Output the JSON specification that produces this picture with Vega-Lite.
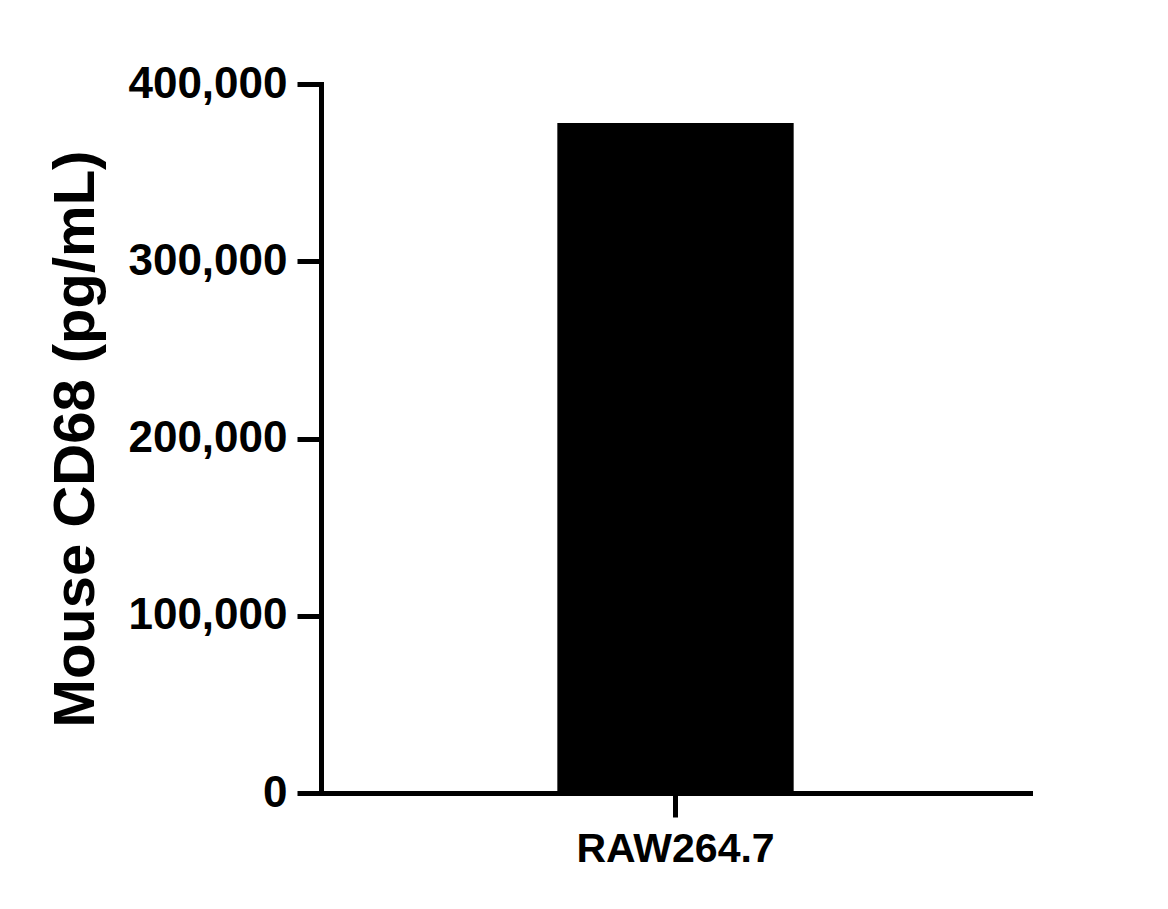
{
  "$schema": "https://vega.github.io/schema/vega-lite/v6.json",
  "data": {
    "values": [
      {"cell": "RAW264.7", "value": 378000}
    ]
  },
  "width": 709,
  "height": 709,
  "autosize": {"type": "none"},
  "padding": {"left": 321, "top": 84, "right": 138, "bottom": 116},
  "background": "white",
  "mark": {"type": "bar", "color": "black"},
  "encoding": {
    "x": {
      "field": "cell",
      "type": "nominal",
      "title": null,
      "scale": {"paddingInner": 0, "paddingOuter": 1},
      "axis": {
        "labelAngle": 0,
        "labelFontSize": 41,
        "labelLimit": 0,
        "tickSize": 24,
        "labelPadding": 12
      }
    },
    "y": {
      "field": "value",
      "type": "quantitative",
      "title": "Mouse CD68 (pg/mL)",
      "scale": {"domain": [0, 400000], "nice": false},
      "axis": {
        "values": [0, 100000, 200000, 300000, 400000],
        "labelExpr": "format(datum.value, ',.0f')",
        "labelFontSize": 44,
        "labelLimit": 0,
        "tickSize": 24,
        "labelPadding": 10,
        "titleFontSize": 58,
        "titlePadding": 22
      }
    }
  },
  "config": {
    "view": {"stroke": null},
    "font": "Liberation Sans",
    "axis": {
      "grid": false,
      "domainColor": "black",
      "domainWidth": 5,
      "domainCap": "square",
      "tickColor": "black",
      "tickWidth": 5,
      "labelColor": "black",
      "labelFont": "Liberation Sans",
      "labelFontWeight": "bold",
      "titleColor": "black",
      "titleFont": "Liberation Sans",
      "titleFontWeight": "bold"
    }
  }
}
